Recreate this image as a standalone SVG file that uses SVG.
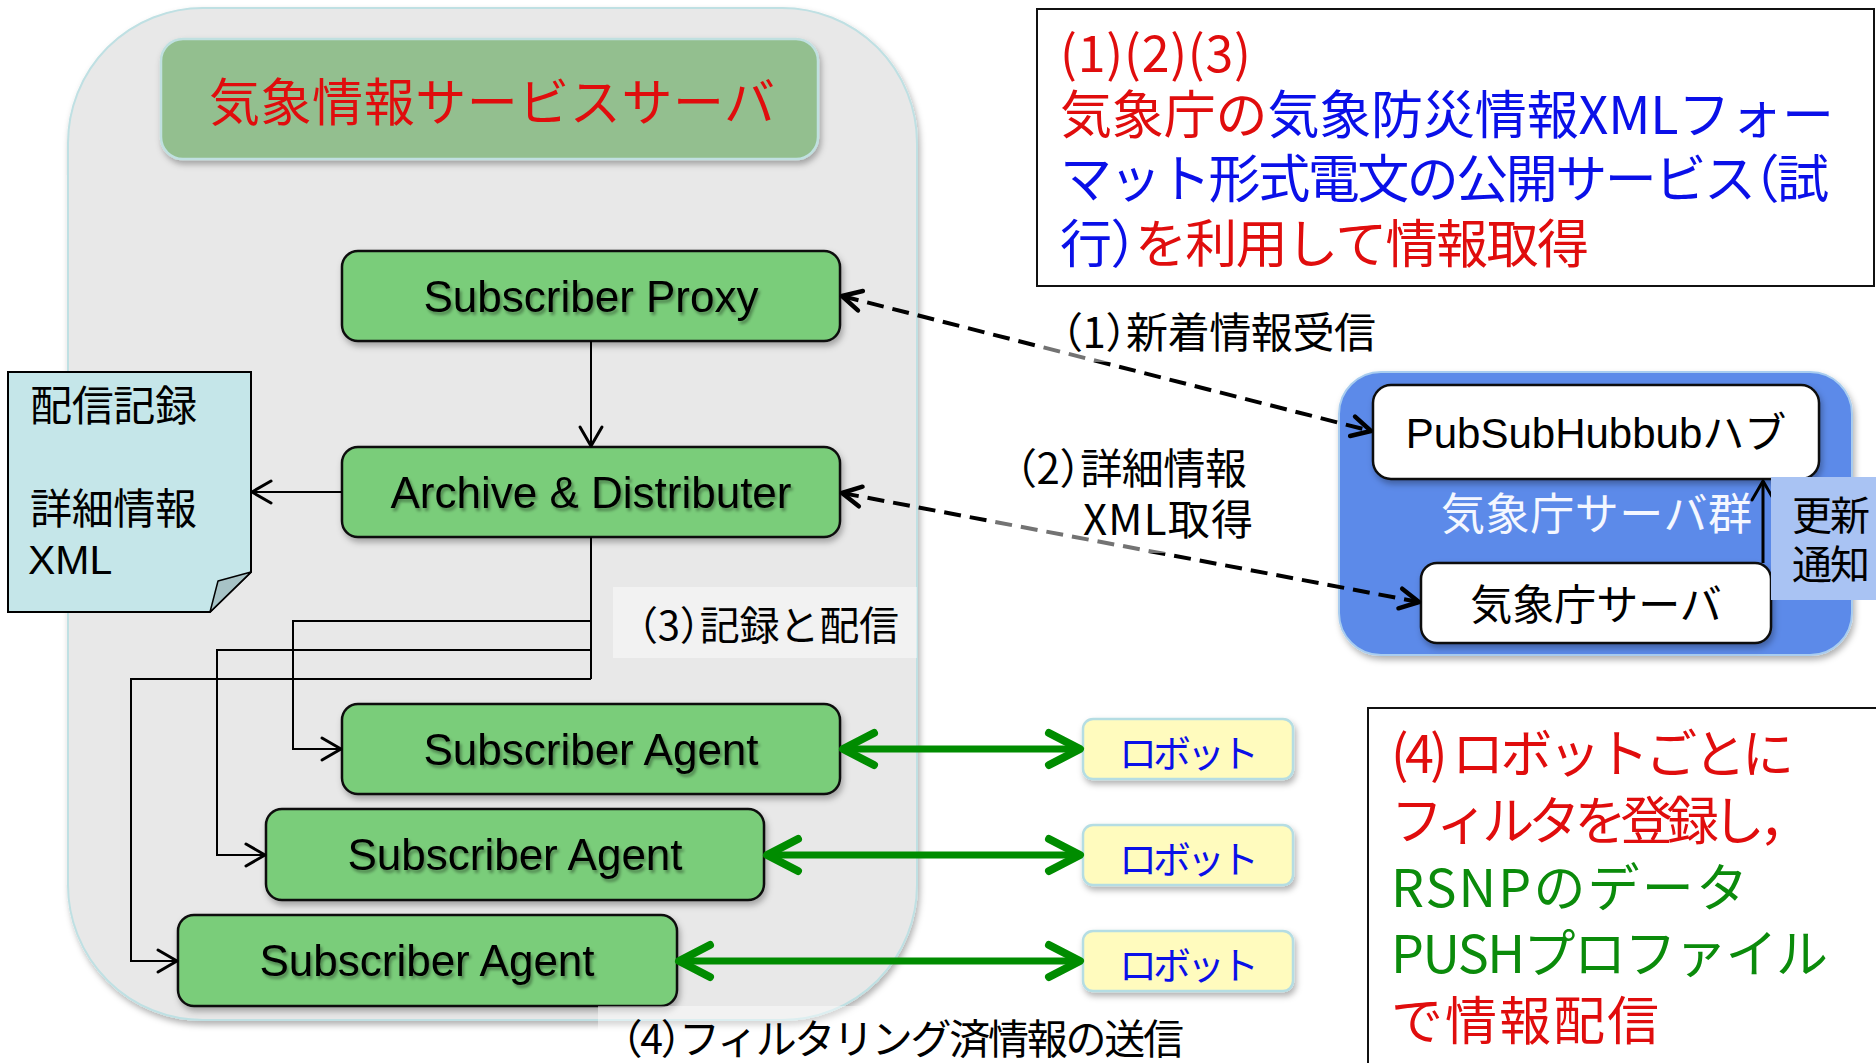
<svg xmlns="http://www.w3.org/2000/svg" width="1876" height="1063" viewBox="0 0 1876 1063">
<style>
.cj{font-family:"Noto Sans CJK JP","Liberation Sans",sans-serif;}
.en{font-family:"Liberation Sans","Noto Sans CJK JP",sans-serif;}
.h{font-feature-settings:"halt";}
.gbox{fill:#7acd7a;stroke:#111;stroke-width:2.5;}
.wbox{fill:#fff;stroke:#111;stroke-width:2.5;}
.robot{fill:#fffbbe;stroke:#b5dde3;stroke-width:2.5;}
.conn{fill:none;stroke:#000;stroke-width:2;}
.dash{fill:none;stroke:#000;stroke-width:4;stroke-dasharray:17 9;}
.green{fill:none;stroke:#008c00;stroke-width:7;}
.lbg{fill:#fff;fill-opacity:0.45;}
.red{fill:#e00d0d;}
.blue{fill:#0a10e8;}
.grn{fill:#0b8b0b;}
</style>
<defs>
<filter id="sh" x="-10%" y="-10%" width="125%" height="135%"><feDropShadow dx="2" dy="4" stdDeviation="3" flood-color="#000" flood-opacity="0.3"/></filter>
<filter id="ts" x="-5%" y="-20%" width="115%" height="150%"><feDropShadow dx="2" dy="3" stdDeviation="1.5" flood-color="#000" flood-opacity="0.35"/></filter>
<marker id="ahB" markerUnits="userSpaceOnUse" viewBox="-30 -20 40 40" markerWidth="40" markerHeight="40" refX="0" refY="0" orient="auto-start-reverse" overflow="visible"><path d="M-19,-11 L0,0 L-19,11" fill="none" stroke="#000" stroke-width="3" stroke-linecap="round" stroke-linejoin="round"/></marker>
<marker id="ahD" markerUnits="userSpaceOnUse" viewBox="-30 -20 40 40" markerWidth="40" markerHeight="40" refX="0" refY="0" orient="auto-start-reverse" overflow="visible"><path d="M-19,-10 L0,0 L-19,10" fill="none" stroke="#000" stroke-width="4.5" stroke-linecap="round" stroke-linejoin="round"/></marker>
<marker id="ahG" markerUnits="userSpaceOnUse" viewBox="-40 -25 50 50" markerWidth="50" markerHeight="50" refX="0" refY="0" orient="auto-start-reverse" overflow="visible"><path d="M-31,-16 L0,0 L-31,16" fill="none" stroke="#008c00" stroke-width="8" stroke-linecap="round" stroke-linejoin="round"/></marker>
</defs>

<rect width="1876" height="1063" fill="#fff"/>

<g id="server-container">
<rect x="68" y="8" width="849" height="1012" rx="135" ry="135" fill="#e8e8e8" stroke="#bfe0e3" stroke-width="2" filter="url(#sh)"/>
</g>

<g id="title">
<rect x="161" y="39" width="657" height="120" rx="22" fill="#93bf8f" stroke="#c0e0e0" stroke-width="2.5" filter="url(#sh)"/>
<text class="cj red" x="209" y="121" font-size="51" textLength="566">気象情報サービスサーバ</text>
</g>

<g id="doc">
<path d="M8,372 H251 V572 L210,612 H8 Z" fill="#c5e6e9" stroke="#000" stroke-width="2"/>
<path d="M251,572 L218,581 L210,612 Z" fill="#a7c3c6" stroke="#000" stroke-width="1.5" stroke-linejoin="round"/>
<text class="cj" x="30" y="421" font-size="42" textLength="167">配信記録</text>
<text class="cj" x="30" y="524" font-size="42" textLength="167">詳細情報</text>
<text class="en" x="28" y="574" font-size="41">XML</text>
</g>

<g id="subscriber-proxy">
<rect class="gbox" x="342" y="251" width="498" height="90" rx="16" filter="url(#sh)"/>
<text class="en" x="591" y="312" font-size="44" text-anchor="middle" filter="url(#ts)">Subscriber Proxy</text>
</g>

<g id="archive">
<rect class="gbox" x="342" y="447" width="498" height="90" rx="16" filter="url(#sh)"/>
<text class="en" x="591" y="508" font-size="44" text-anchor="middle" filter="url(#ts)">Archive &amp; Distributer</text>
</g>

<g id="agent1">
<rect class="gbox" x="342" y="704" width="498" height="90" rx="16" filter="url(#sh)"/>
<text class="en" x="591" y="765" font-size="44" text-anchor="middle" filter="url(#ts)">Subscriber Agent</text>
</g>
<g id="agent2">
<rect class="gbox" x="266" y="809" width="498" height="91" rx="16" filter="url(#sh)"/>
<text class="en" x="515" y="870" font-size="44" text-anchor="middle" filter="url(#ts)">Subscriber Agent</text>
</g>
<g id="agent3">
<rect class="gbox" x="178" y="915" width="499" height="91" rx="16" filter="url(#sh)"/>
<text class="en" x="427" y="976" font-size="44" text-anchor="middle" filter="url(#ts)">Subscriber Agent</text>
</g>

<g id="jma-group">
<rect x="1339" y="372" width="513" height="283" rx="42" fill="#5b8ae9" stroke="#a9cdef" stroke-width="2" filter="url(#sh)"/>
<text class="cj" x="1441" y="530" font-size="44" textLength="311" fill="#f4f7ff">気象庁サーバ群</text>
</g>
<g id="hub">
<rect class="wbox" x="1373" y="385" width="446" height="94" rx="18" filter="url(#sh)"/>
<text class="en" x="1596" y="448" font-size="42" text-anchor="middle">PubSubHubbubハブ</text>
</g>
<g id="jma-server">
<rect class="wbox" x="1421" y="563" width="350" height="80" rx="16" filter="url(#sh)"/>
<text class="cj" x="1596" y="620" font-size="42" text-anchor="middle">気象庁サーバ</text>
</g>

<g id="robot1">
<rect class="robot" x="1083" y="719" width="210" height="60" rx="10" filter="url(#sh)"/>
<text class="cj blue" x="1119" y="767" font-size="38" textLength="140">ロボット</text>
</g>
<g id="robot2">
<rect class="robot" x="1083" y="825" width="210" height="60" rx="10" filter="url(#sh)"/>
<text class="cj blue" x="1119" y="873" font-size="38" textLength="140">ロボット</text>
</g>
<g id="robot3">
<rect class="robot" x="1083" y="931" width="210" height="60" rx="10" filter="url(#sh)"/>
<text class="cj blue" x="1119" y="979" font-size="38" textLength="140">ロボット</text>
</g>

<g id="connectors">
<line class="conn" x1="591" y1="341" x2="591" y2="446" marker-end="url(#ahB)"/>
<line class="conn" x1="342" y1="492" x2="252" y2="492" marker-end="url(#ahB)"/>
<path class="conn" d="M591,537 V679"/>
<path class="conn" d="M591,621 H293 V749 H341" marker-end="url(#ahB)"/>
<path class="conn" d="M591,650 H217 V855 H265" marker-end="url(#ahB)"/>
<path class="conn" d="M591,679 H131 V961 H177" marker-end="url(#ahB)"/>
<line class="dash" x1="842" y1="296" x2="1371" y2="431" marker-start="url(#ahD)" marker-end="url(#ahD)"/>
<line class="dash" x1="842" y1="493" x2="1419" y2="602" marker-start="url(#ahD)" marker-end="url(#ahD)"/>
<line class="green" x1="843" y1="749" x2="1080" y2="749" marker-start="url(#ahG)" marker-end="url(#ahG)"/>
<line class="green" x1="767" y1="855" x2="1080" y2="855" marker-start="url(#ahG)" marker-end="url(#ahG)"/>
<line class="green" x1="679" y1="961" x2="1080" y2="961" marker-start="url(#ahG)" marker-end="url(#ahG)"/>
<line x1="1763" y1="563" x2="1763" y2="481" stroke="#000" stroke-width="3" marker-end="url(#ahB)"/>
</g>

<g id="label-3">
<rect class="lbg" x="613" y="587" width="304" height="71"/>
<text class="cj h" x="638" y="640" font-size="40" textLength="261">（3）記録と配信</text>
</g>
<g id="label-1">
<rect class="lbg" x="1037" y="305" width="353" height="57"/>
<text class="cj h" x="1062" y="348" font-size="42" textLength="314">（1）新着情報受信</text>
</g>
<g id="label-2">
<rect class="lbg" x="990" y="440" width="275" height="113"/>
<text class="cj h" x="1016" y="484" font-size="42" textLength="231">（2）詳細情報</text>
<text class="cj" x="1083" y="535" font-size="42" textLength="170">XML取得</text>
</g>
<g id="label-update">
<rect x="1771" y="477" width="105" height="123" fill="#a9c3f3"/>
<text class="cj" x="1792" y="530" font-size="40" textLength="78">更新</text>
<text class="cj" x="1792" y="579" font-size="40" textLength="78">通知</text>
</g>
<g id="label-4">
<rect class="lbg" x="598" y="1006" width="592" height="57"/>
<text class="cj h" x="622" y="1054" font-size="41" textLength="562">（4）フィルタリング済情報の送信</text>
</g>

<g id="note-top">
<rect x="1037" y="9" width="837" height="277" fill="#fff" stroke="#111" stroke-width="2"/>
<text class="cj red" x="1060" y="72" font-size="50" textLength="191">(1)(2)(3)</text>
<text class="cj h" x="1060" y="134" font-size="52" textLength="774"><tspan class="red">気象庁の</tspan><tspan class="blue">気象防災情報XMLフォー</tspan></text>
<text class="cj h blue" x="1060" y="198" font-size="52" textLength="769">マット形式電文の公開サービス（試</text>
<text class="cj h" x="1060" y="263" font-size="52" textLength="529"><tspan class="blue">行）</tspan><tspan class="red">を利用して情報取得</tspan></text>
</g>

<g id="note-bottom">
<rect x="1368" y="708" width="520" height="400" fill="#fff" stroke="#111" stroke-width="2"/>
<text class="cj red" x="1391" y="773" font-size="52" textLength="403">(4) ロボットごとに</text>
<text class="cj h red" x="1391" y="840" font-size="52" textLength="394">フィルタを登録し，</text>
<text class="cj grn" x="1391" y="907" font-size="52" textLength="357">RSNPのデータ</text>
<text class="cj grn" x="1391" y="973" font-size="52" textLength="437">PUSHプロファイル</text>
<text class="cj red" x="1391" y="1040" font-size="52" textLength="268">で情報配信</text>
</g>
</svg>
